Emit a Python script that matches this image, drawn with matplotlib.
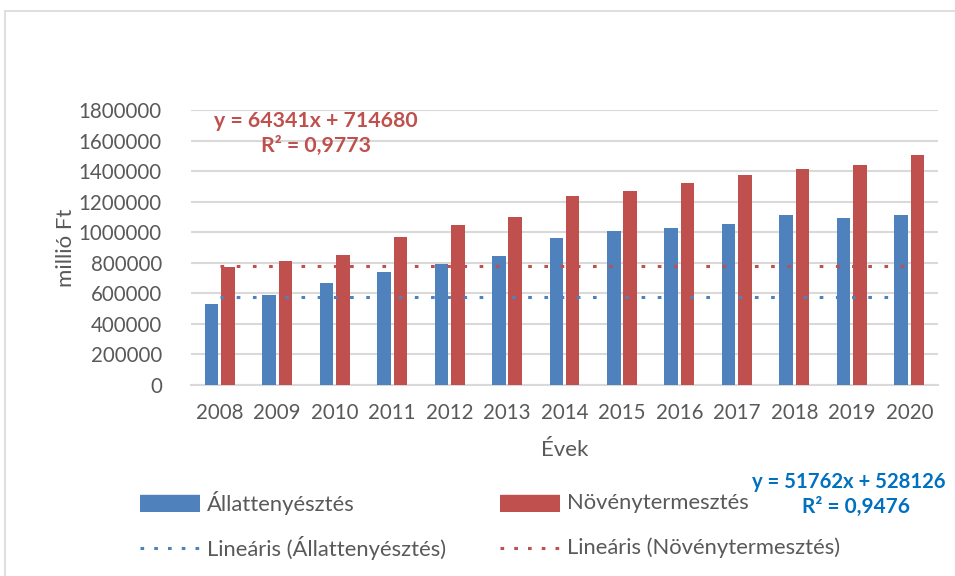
import matplotlib
matplotlib.use("Agg")
import matplotlib.pyplot as plt
import numpy as np
from matplotlib.patches import Rectangle

plt.rcParams['font.family'] = ['Lato', 'DejaVu Sans']

years = ["2008", "2009", "2010", "2011", "2012", "2013", "2014",
         "2015", "2016", "2017", "2018", "2019", "2020"]
allat = [530000, 590000, 668000, 740000, 792000, 844000, 962000,
         1008000, 1027000, 1054000, 1113000, 1093000, 1113000]
noveny = [772000, 811000, 851000, 969000, 1047000, 1100000, 1237000,
          1270000, 1322000, 1374000, 1414000, 1440000, 1505000]
trend_allat = [578000] * 13
trend_noveny = [779000] * 13
yticks = [0, 200000, 400000, 600000, 800000, 1000000, 1200000,
          1400000, 1600000, 1800000]

BLUE = "#4F81BD"
RED = "#C0504D"
GRID = "#D9D9D9"
TXT = "#595959"
DOT = (0, (1.2, 4.1))
DLW = 2.2

W, H = 955, 576
fig = plt.figure(figsize=(W / 100, H / 100), dpi=100)

# chart border
fig.patches.append(Rectangle((5 / W, -0.5), 1.2, 1.5 - 11 / H, transform=fig.transFigure,
                             fill=False, edgecolor=GRID, lw=1.2))

ax = fig.add_axes([191 / W, 1 - 385 / H, (938 - 191) / W, (385 - 110) / H])
x = np.arange(len(years))
bw = 0.235
off = 0.1425
ax.bar(x - off, allat, bw, color=BLUE, zorder=3)
ax.bar(x + off, noveny, bw, color=RED, zorder=3)
ax.plot(x, trend_allat, color=BLUE, lw=DLW, linestyle=DOT, zorder=4,
        dash_capstyle='butt')
ax.plot(x, trend_noveny, color=RED, lw=DLW, linestyle=DOT, zorder=4,
        dash_capstyle='butt')

ax.set_xlim(-0.5, len(years) - 0.5)
ax.set_ylim(0, 1800000)
ax.set_yticks(yticks)
ax.set_yticklabels([str(v) for v in yticks])
ax.set_xticks(x)
ax.set_xticklabels(years)
ax.tick_params(axis='both', length=0, labelsize=14.8, labelcolor=TXT)
ax.tick_params(axis='y', pad=21)
ax.tick_params(axis='x', pad=13)
ax.grid(axis='y', color=GRID, lw=1.5, zorder=0)
for s in ['top', 'right', 'left']:
    ax.spines[s].set_visible(False)
ax.spines['bottom'].set_color(GRID)
ax.spines['bottom'].set_linewidth(1.5)

ax.set_ylabel("millió Ft", fontsize=16, color=TXT, labelpad=2)
ax.set_xlabel("Évek", fontsize=16, color=TXT, labelpad=12)

def fx(px):
    return px / W

def fy(py):
    return 1 - py / H

fig.text(fx(316), fy(121), "y = 64341x + 714680", fontsize=15.3, fontweight='bold',
         color=RED, ha='center', va='center')
fig.text(fx(316), fy(146), "R² = 0,9773", fontsize=15.3, fontweight='bold',
         color=RED, ha='center', va='center')
fig.text(fx(752), fy(482), "y = 51762x + 528126", fontsize=14.6, fontweight='bold',
         color="#0070C0", ha='left', va='center')
fig.text(fx(856), fy(507), "R² = 0,9476", fontsize=15.0, fontweight='bold',
         color="#0070C0", ha='center', va='center')

labels1 = ["Állattenyésztés", "Növénytermesztés"]
labels2 = ["Lineáris (Állattenyésztés)", "Lineáris (Növénytermesztés)"]

def legend_item(xp, yp, handle_kind, color, label):
    lax = fig.add_axes([fx(xp), fy(yp + 9), fx(60), 18 / H])
    lax.set_xlim(0, 1)
    lax.set_ylim(0, 1)
    lax.axis('off')
    if handle_kind == 'patch':
        lax.add_patch(Rectangle((0, 0.05), 1, 0.9, color=color))
    else:
        lax.plot([0.0, 1], [0.5, 0.5], color=color, lw=DLW, linestyle=(0, (1.2, 3.3)),
                 dash_capstyle='butt')
    fig.text(fx(xp + 67), fy(yp), label, fontsize=15.8, color=TXT, ha='left', va='center')

legend_item(140, 503, 'patch', BLUE, labels1[0])
legend_item(500, 503, 'patch', RED, labels1[1])
legend_item(140, 548, 'line', BLUE, labels2[0])
legend_item(500, 548, 'line', RED, labels2[1])

fig.savefig("out.png", dpi=100)
